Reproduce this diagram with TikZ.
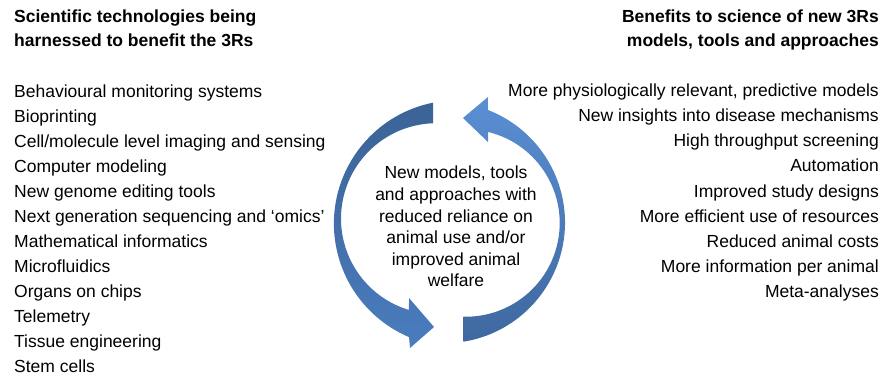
\documentclass[tikz,border=0pt]{standalone}
\usepackage{fontspec}
\setmainfont{Liberation Sans}
\usetikzlibrary{calc}

\definecolor{cycdark}{HTML}{3B6396}
\definecolor{cycmid}{HTML}{4A7CBE}
\definecolor{cyclight}{HTML}{5A8FD4}
\definecolor{cycdeep}{HTML}{3E689F}

\begin{document}
\begin{tikzpicture}[x=1pt,y=1pt,
	item/.style={inner sep=0pt, font=\fontsize{17.5}{21}\selectfont},
	heading/.style={item, font=\fontsize{17.5}{21}\selectfont\bfseries}]
	\useasboundingbox (0,0) rectangle (881,380);

	% centres of the outer and inner edges of the two arrows
	\coordinate (OL) at (457.2,156.4);
	\coordinate (IL) at (436.4,161.4);
	\coordinate (OR) at (444.3,157.5);
	\coordinate (IR) at (466,157);

	% left arrow, down and round to the right
	\coordinate (LW1) at (410,32);
	\coordinate (LTip) at (434,53);
	\coordinate (LW2) at (409,82);
	\shade[top color=cycdark, bottom color=cycmid]
		($(OL)+(101.3:123.3)$) arc[start angle=101.3, end angle=247, radius=123.3]
		-- (LW1) -- (LTip) -- (LW2)
		-- ($(IL)+(253.3:95.4)$) arc[start angle=253.3, end angle=92, radius=95.4] -- cycle;

	% right arrow, up and round to the left
	\coordinate (RW1) at (488,283);
	\coordinate (RTip) at (463,262);
	\coordinate (RW2) at (488,238);
	\shade[top color=cyclight, bottom color=cycdeep]
		($(OR)+(-80.9:120.7)$) arc[start angle=-80.9, end angle=68.8, radius=120.7]
		-- (RW1) -- (RTip) -- (RW2)
		-- ($(IR)+(76.4:93.7)$) arc[start angle=76.4, end angle=-91.65, radius=93.7] -- cycle;

	\node[item, align=center, font=\fontsize{17.5}{21.6}\selectfont] (core) at (456,153.3)
		{New models, tools\\and approaches with\\reduced reliance on\\animal use and/or\\improved animal\\welfare};

	% technologies
	\node[heading, anchor=base west] (tech1) at (14,357) {Scientific technologies being};
	\node[heading, anchor=base west] (tech2) at (14,333) {harnessed to benefit the 3Rs};
	\node[item, anchor=base west] (t1) at (14,282.5) {Behavioural monitoring systems};
	\node[item, anchor=base west] (t2) at (14,257.5) {Bioprinting};
	\node[item, anchor=base west] (t3) at (14,232.4) {Cell/molecule level imaging and sensing};
	\node[item, anchor=base west] (t4) at (14,207.4) {Computer modeling};
	\node[item, anchor=base west] (t5) at (14,182.3) {New genome editing tools};
	\node[item, anchor=base west] (t6) at (14,157.3) {Next generation sequencing and ‘omics’};
	\node[item, anchor=base west] (t7) at (14,132.2) {Mathematical informatics};
	\node[item, anchor=base west] (t8) at (14,107.2) {Microfluidics};
	\node[item, anchor=base west] (t9) at (14,82.1) {Organs on chips};
	\node[item, anchor=base west] (t10) at (14,57.1) {Telemetry};
	\node[item, anchor=base west] (t11) at (14,32.0) {Tissue engineering};
	\node[item, anchor=base west] (t12) at (14,7.0) {Stem cells};

	% benefits
	\node[heading, anchor=base east] (ben1) at (879,357) {Benefits to science of new 3Rs};
	\node[heading, anchor=base east] (ben2) at (879,333) {models, tools and approaches};
	\node[item, anchor=base east] (b1) at (879,283.5) {More physiologically relevant, predictive models};
	\node[item, anchor=base east] (b2) at (879,258.4) {New insights into disease mechanisms};
	\node[item, anchor=base east] (b3) at (879,233.2) {High throughput screening};
	\node[item, anchor=base east] (b4) at (879,208.1) {Automation};
	\node[item, anchor=base east] (b5) at (879,182.9) {Improved study designs};
	\node[item, anchor=base east] (b6) at (879,157.8) {More efficient use of resources};
	\node[item, anchor=base east] (b7) at (879,132.6) {Reduced animal costs};
	\node[item, anchor=base east] (b8) at (879,107.5) {More information per animal};
	\node[item, anchor=base east] (b9) at (879,82.3) {Meta-analyses};
\end{tikzpicture}
\end{document}
